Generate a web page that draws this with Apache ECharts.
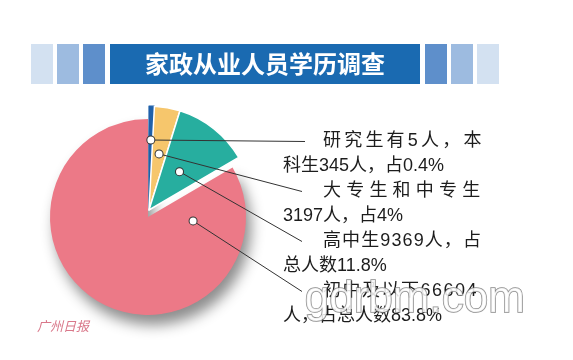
<!DOCTYPE html>
<html>
<head>
<meta charset="utf-8">
<script src="https://cdn.jsdelivr.net/npm/echarts@6/dist/echarts.min.js"></script>
<style>
html,body{margin:0;padding:0;background:#fff;}
#chart{width:573px;height:360px;}
</style>
</head>
<body>
<div id="chart"></div>
<script>
// ---------------- data ----------------
const titleText = '家政从业人员学历调查';
const categories = ['研究生和本科生', '大专生和中专生', '高中生', '初中及以下'];
const shares = [0.4, 4, 11.8, 83.8];
const labelFirstLines = ['研究生有5人，本', '大专生和中专生', '高中生9369人，占', '初中及以下66604'];
const labelSecondLines = ['科生345人，占0.4%', '3197人，占4%', '总人数11.8%', '人，占总人数83.8%'];
const sourceText = '广州日报';
const watermarkText = 'gdrbm.com';

// ---------------- styles / layout ----------------
const colors = ['#1f60aa', '#f6c66c', '#27ae9f', '#ec7987'];
const smallCenter = [149, 210], smallRadius = 104;
const pinkCenter = [148, 217], pinkRadius = 98;
const anchorRadius = [70, 57, 49];
const pinkAnchorFrac = [0.73, 0.52];
const textLeft = 283, blockTop0 = 129, blockStep = 50, lineH = 25, indent = 40;
const lineEndX = [305, 302, 302, 302];
const firstLineGap = [3.2, 5.2, 1.1, 1.5];
const fontFamily = "'Liberation Sans','Noto Sans CJK SC',sans-serif";
const textColor = '#1c1c1c';

const rich = { s: { fontSize: 18, lineHeight: lineH, fontFamily: fontFamily, color: textColor } };
firstLineGap.forEach((g, k) => {
  rich['f' + k] = { fontSize: 18, lineHeight: lineH, fontFamily: fontFamily, color: textColor, padding: [0, g, 0, 0] };
  rich['f' + k + 'i'] = { fontSize: 18, lineHeight: lineH, fontFamily: fontFamily, color: textColor, padding: [0, g, 0, indent] };
});
function richLabel(k) {
  const chars = Array.from(labelFirstLines[k]);
  const first = chars.map((ch, i) => '{' + (i === 0 ? 'f' + k + 'i' : 'f' + k) + '|' + ch + '}').join('');
  return first + '\n{s|' + labelSecondLines[k] + '}';
}
const textLayout = p => ({ x: textLeft, y: blockTop0 + blockStep * p.dataIndex, align: 'left', verticalAlign: 'top' });

const hidden = { color: 'rgba(0,0,0,0)', borderWidth: 0 };
const textLabel = {
  position: 'inside', formatter: p => richLabel(p.dataIndex), rich: rich,
  width: 260, color: textColor, fontFamily: fontFamily, fontSize: 18
};

const series = [];
// small slices (offset group)
series.push({
  type: 'pie', z: 2, center: smallCenter, radius: smallRadius, startAngle: 90, minAngle: 3,
  silent: true, avoidLabelOverlap: false, emphasis: { disabled: true },
  data: shares.map((v, i) => ({
    name: categories[i], value: v,
    itemStyle: i < 3 ? { color: colors[i], borderColor: i === 0 ? colors[0] : '#fff', borderWidth: i === 0 ? 1.2 : 1.5 } : hidden,
    label: { show: i < 3 }, labelLine: { show: false }
  })),
  label: textLabel, labelLayout: textLayout
});
// main slice
series.push({
  type: 'pie', z: 1, center: pinkCenter, radius: pinkRadius, startAngle: 90, minAngle: 3,
  silent: true, avoidLabelOverlap: false, emphasis: { disabled: true },
  data: shares.map((v, i) => ({
    name: categories[i], value: v,
    itemStyle: i === 3 ? { color: colors[i], shadowBlur: 14, shadowColor: 'rgba(0,0,0,0.45)', shadowOffsetX: 5, shadowOffsetY: 10 } : hidden,
    label: { show: i === 3 }, labelLine: { show: false }
  })),
  label: textLabel, labelLayout: textLayout
});
// leader anchors
for (let k = 0; k < 4; k++) {
  series.push({
    type: 'pie', z: 10, center: k < 3 ? smallCenter : pinkCenter, radius: k < 3 ? anchorRadius[k] : pinkRadius,
    startAngle: 90, minAngle: 3, silent: true, avoidLabelOverlap: false, emphasis: { disabled: true },
    data: shares.map((v, i) => ({
      name: categories[i], value: v, itemStyle: hidden,
      label: { show: i === k }, labelLine: { show: i === k }
    })),
    label: {
      position: 'outside', formatter: ' ', fontSize: 1, width: 1, height: 1, padding: 3,
      backgroundColor: '#fff', borderColor: '#333', borderWidth: 1, borderRadius: 4
    },
    labelLine: { length: 5, length2: 5, smooth: false, lineStyle: { color: '#333', width: 1 } },
    labelLayout: params => {
      let p0;
      if (k < 3) {
        if (!params.labelLinePoints) return {};
        p0 = params.labelLinePoints[0].slice();
      } else {
        const r = params.rect;
        p0 = [r.x + r.width * pinkAnchorFrac[0], r.y + r.height * pinkAnchorFrac[1]];
      }
      const end = [lineEndX[k], blockTop0 + blockStep * k + lineH / 2];
      return { x: p0[0], y: p0[1], align: 'center', verticalAlign: 'middle', labelLinePoints: [p0, end] };
    }
  });
}

const squareColors = ['#d3e1f1', '#9dbbe0', '#5e8fcb'];
const leftX = [31, 57, 83], rightX = [425, 451, 477];
const graphic = [];
leftX.forEach((x, i) => graphic.push({ type: 'rect', shape: { x: x, y: 44, width: 22, height: 40 }, style: { fill: squareColors[i] } }));
rightX.forEach((x, i) => graphic.push({ type: 'rect', shape: { x: x, y: 44, width: 22, height: 40 }, style: { fill: squareColors[2 - i] } }));
graphic.push({ type: 'text', left: 37, top: 320, style: { text: sourceText, font: 'italic 13px "Noto Sans CJK SC"', fill: '#d9788a' } });
graphic.push({ type: 'text', left: 304, top: 277, z: 100, style: { text: watermarkText, font: '44px "Liberation Sans"', fill: 'rgba(255,255,255,0.85)', stroke: 'rgba(110,110,110,0.8)', lineWidth: 1.5 } });

const chart = echarts.init(document.getElementById('chart'), null, { renderer: 'canvas' });
chart.setOption({
  backgroundColor: '#fff',
  animation: false,
  title: {
    text: titleText, left: 110, top: 44, backgroundColor: '#1a6ab1', padding: [7, 35, 7, 35],
    textStyle: { color: '#fff', fontSize: 24, fontWeight: 'bold', fontFamily: "'Noto Sans CJK SC'", lineHeight: 26 }
  },
  graphic: graphic,
  series: series
});
</script>
</body>
</html>
